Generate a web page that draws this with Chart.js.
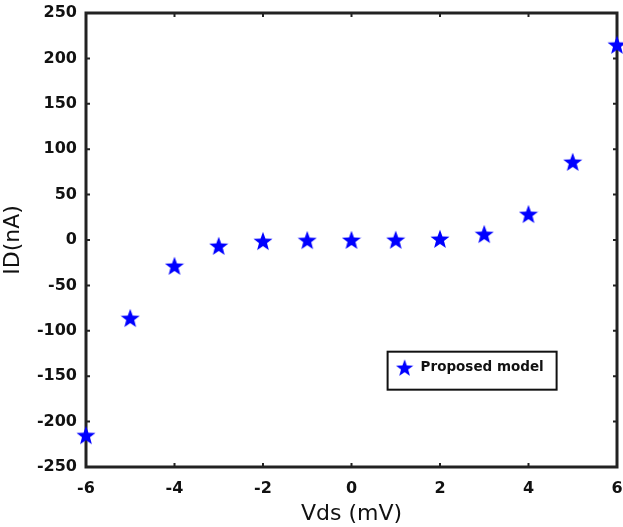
<!DOCTYPE html>
<html>
<head>
<meta charset="utf-8">
<script src="https://cdn.jsdelivr.net/npm/chart.js@4.4.1/dist/chart.umd.min.js"></script>
<style>
  html, body { margin: 0; padding: 0; background: #fff; }
  #wrap { width: 623px; height: 527px; }
</style>
</head>
<body>
<div id="wrap"><canvas id="chart"></canvas></div>
<script>
// data
const vds = [-6, -5, -4, -3, -2, -1, 0, 1, 2, 3, 4, 5, 6];
const idModel = [-215, -86, -28.5, -6.5, -1.2, -0.2, 0, 0.2, 1.2, 6.5, 28.5, 86, 215];
const xTicks = [-6, -4, -2, 0, 2, 4, 6];
const yTicks = [-250, -200, -150, -100, -50, 0, 50, 100, 150, 200, 250];
const seriesName = 'Proposed model';

// filled five-point star for markers
function makeStar(size, color) {
  const c = document.createElement('canvas');
  c.width = size; c.height = size;
  const g = c.getContext('2d');
  const cx = size / 2, cy = size / 2 + size * 0.04;
  const ro = size / 2, ri = ro * 0.42;
  g.beginPath();
  for (let i = 0; i < 10; i++) {
    const r = i % 2 === 0 ? ro : ri;
    const a = -Math.PI / 2 + i * Math.PI / 5;
    const px = cx + r * Math.cos(a), py = cy + r * Math.sin(a);
    if (i === 0) g.moveTo(px, py); else g.lineTo(px, py);
  }
  g.closePath();
  g.fillStyle = color;
  g.fill();
  return c;
}
const star = makeStar(20, '#0000ff');

// frame + inward ticks + legend box
const framePlugin = {
  id: 'frame',
  beforeDatasetsDraw(chart) {
    const ctx = chart.ctx;
    const a = chart.chartArea;
    const xs = chart.scales.x, ys = chart.scales.y;
    ctx.save();
    ctx.strokeStyle = '#222';
    ctx.lineWidth = 2;
    xTicks.forEach(v => {
      const px = xs.getPixelForValue(v);
      ctx.beginPath();
      ctx.moveTo(px, a.bottom); ctx.lineTo(px, a.bottom - 4);
      ctx.moveTo(px, a.top); ctx.lineTo(px, a.top + 4);
      ctx.stroke();
    });
    yTicks.forEach(v => {
      const py = ys.getPixelForValue(v);
      ctx.beginPath();
      ctx.moveTo(a.left, py); ctx.lineTo(a.left + 4, py);
      ctx.moveTo(a.right, py); ctx.lineTo(a.right - 4, py);
      ctx.stroke();
    });
    ctx.lineWidth = 3;
    ctx.strokeRect(a.left, a.top, a.right - a.left, a.bottom - a.top);
    ctx.restore();
  },
  afterDraw(chart) {
    const ctx = chart.ctx;
    const a = chart.chartArea;
    ctx.save();
    // legend
    const w = a.right - a.left, h = a.bottom - a.top;
    const lx = a.left + w * 0.568, ly = a.top + h * 0.746;
    const lw = 169, lh = 38;
    ctx.fillStyle = '#fff';
    ctx.fillRect(lx, ly, lw, lh);
    ctx.lineWidth = 2;
    ctx.strokeStyle = '#111';
    ctx.strokeRect(lx, ly, lw, lh);
    ctx.drawImage(star, lx + 8, ly + 7, 18, 18);
    ctx.fillStyle = '#111';
    ctx.font = 'bold 13.5px "DejaVu Sans", sans-serif';
    ctx.textBaseline = 'middle';
    ctx.fillText(seriesName, lx + 33, ly + 16);
    ctx.restore();
  }
};

const tickFont = { family: '"DejaVu Sans", sans-serif', size: 16, weight: 'bold' };
const titleFont = { family: '"DejaVu Sans", sans-serif', size: 22 };

new Chart(document.getElementById('chart'), {
  type: 'scatter',
  data: {
    datasets: [{
      label: seriesName,
      data: vds.map((v, i) => ({ x: v, y: idModel[i] })),
      pointStyle: star,
      pointRadius: 9,
      clip: false
    }]
  },
  options: {
    responsive: true,
    maintainAspectRatio: false,
    animation: false,
    layout: { autoPadding: false, padding: { left: 0, right: 6, top: 13, bottom: 0 } },
    plugins: { legend: { display: false }, tooltip: { enabled: false } },
    scales: {
      x: {
        type: 'linear', min: -6, max: 6,
        afterBuildTicks(s) { s.ticks = xTicks.map(v => ({ value: v })); },
        afterFit(s) { s.height = 60; s.paddingLeft = 0; s.paddingRight = 0; },
        grid: { display: false, drawTicks: false, tickLength: 0 },
        border: { display: false },
        ticks: { font: tickFont, color: '#111', padding: 12 },
        title: { display: true, text: 'Vds (mV)', font: titleFont, color: '#111', padding: { top: 0, bottom: 0 } }
      },
      y: {
        type: 'linear', min: -250, max: 250,
        afterBuildTicks(s) { s.ticks = yTicks.map(v => ({ value: v })); },
        afterFit(s) { s.width = 86; s.paddingTop = 0; s.paddingBottom = 0; },
        grid: { display: false, drawTicks: false, tickLength: 0 },
        border: { display: false },
        ticks: { font: tickFont, color: '#111', padding: 9 },
        title: { display: true, text: 'ID(nA)', font: titleFont, color: '#111', padding: { top: 0, bottom: 0 } }
      }
    }
  },
  plugins: [framePlugin]
});
</script>
</body>
</html>
